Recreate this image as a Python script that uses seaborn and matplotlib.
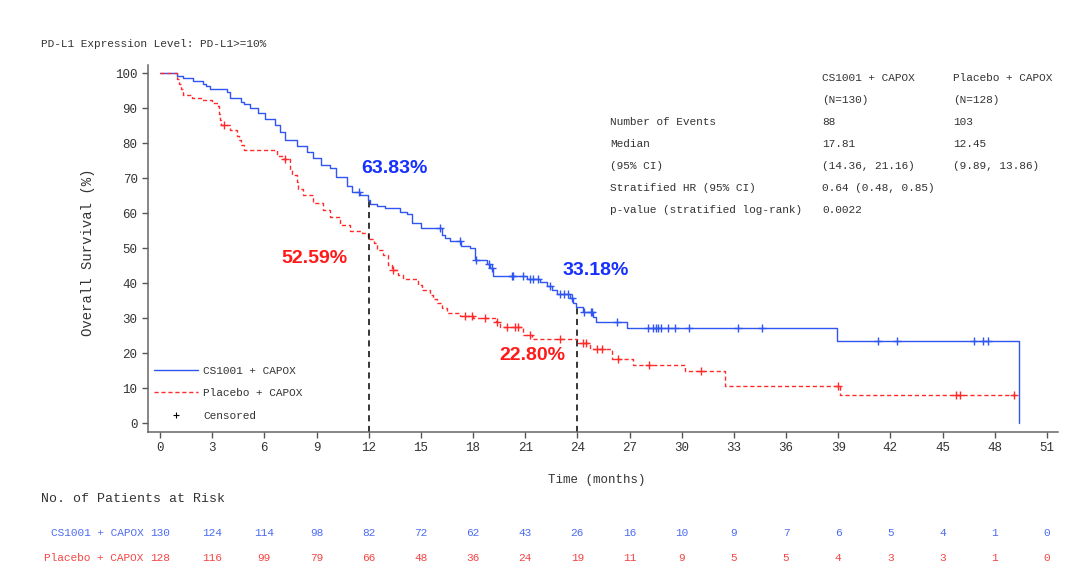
import numpy as np
import pandas as pd
import matplotlib
matplotlib.use("Agg")
import matplotlib.pyplot as plt
from matplotlib.lines import Line2D
import seaborn as sns

# Kaplan-Meier step values (time in months, survival %)
cs_time = [0, 1.0, 1.3, 1.88, 2.45, 2.65, 2.88, 3.87, 4.03, 4.64, 4.83, 5.18, 5.65, 6.04, 6.61,
           6.9, 7.19, 7.86, 8.43, 8.82, 9.24, 9.78, 10.12, 10.73, 11.02, 11.5, 11.95, 12.1, 12.46,
           12.94, 13.8, 14.19, 14.5, 15.0, 16.2, 16.4, 16.7, 17.3, 17.85, 18.1, 18.8, 19.0, 19.17,
           21.08, 21.85, 22.24, 22.52, 22.81, 23.58, 23.77, 23.95, 24.35, 24.9, 25.1, 26.85, 38.95, 49.4]
cs_surv = [100, 99.2, 98.5, 97.7, 97.0, 96.3, 95.3, 94.5, 93.0, 91.8, 91.1, 89.9, 88.5, 87.0, 85.1,
           83.2, 80.9, 79.1, 77.5, 75.6, 73.7, 72.8, 70.2, 67.7, 66.1, 65.1, 63.8, 62.6, 62.0,
           61.3, 60.4, 59.7, 57.1, 55.8, 53.7, 53.0, 52.1, 50.6, 49.9, 46.6, 45.4, 44.3, 42.0,
           41.1, 40.4, 39.1, 38.0, 36.9, 35.6, 34.4, 33.2, 31.6, 30.4, 29.0, 27.2, 23.4, 0]
cs_cens = [11.45, 16.1, 17.25, 18.17, 18.9, 19.1, 20.22, 20.32, 20.9, 21.28, 21.47, 21.76, 22.43,
           23.0, 23.23, 23.48, 23.7, 24.4, 24.8, 24.85, 26.3, 28.04, 28.33, 28.52, 28.62, 28.81,
           29.2, 29.61, 30.44, 33.22, 34.6, 41.3, 42.4, 46.8, 47.35, 47.6]

pl_time = [0, 1.0, 1.1, 1.2, 1.34, 1.82, 2.4, 2.97, 3.36, 3.42, 3.47, 3.52, 4.03, 4.45, 4.55,
           4.65, 4.83, 6.7, 7.05, 7.47, 7.6, 7.86, 7.95, 8.24, 8.82, 9.39, 9.78, 10.35, 10.92,
           11.6, 11.95, 12.3, 12.46, 12.84, 13.13, 13.32, 13.71, 14.0, 14.86, 15.05, 15.53, 15.7,
           15.91, 16.2, 16.49, 17.25, 18.02, 19.3, 19.55, 20.9, 21.4, 23.96, 24.73, 26.0, 27.22,
           30.19, 32.49, 39.1]
pl_surv = [100, 98.4, 96.9, 95.3, 93.8, 93.0, 92.2, 91.4, 90.6, 88.3, 86.7, 85.1, 83.7, 82.0, 80.9,
           79.4, 78.1, 76.3, 75.5, 72.3, 70.9, 69.0, 67.0, 65.1, 62.8, 60.9, 59.0, 56.6, 54.9,
           54.2, 52.6, 51.3, 49.4, 48.0, 45.1, 43.7, 42.3, 41.1, 39.4, 38.0, 36.6, 35.4,
           34.2, 32.8, 31.5, 30.6, 29.9, 28.9, 27.5, 25.1, 23.9, 22.8, 21.2, 18.4, 16.6,
           14.9, 10.6, 8.0]
pl_cens = [3.7, 7.2, 13.42, 17.54, 17.95, 18.69, 19.36, 19.93, 20.41, 20.6, 21.28, 23.0, 24.3,
           24.5, 25.11, 25.4, 26.35, 28.12, 31.11, 39.0, 45.77, 46.0, 49.1]
pl_last = 49.26

risk_months = list(range(0, 52, 3))
cs_risk = [130, 124, 114, 98, 82, 72, 62, 43, 26, 16, 10, 9, 7, 6, 5, 4, 1, 0]
pl_risk = [128, 116, 99, 79, 66, 48, 36, 24, 19, 11, 9, 5, 5, 4, 3, 3, 1, 0]

landmarks = [12, 24]
cs_land = ["63.83%", "33.18%"]
pl_land = ["52.59%", "22.80%"]
cs_land_val = [63.83, 33.18]

stat_rows = ["Number of Events", "Median", "(95% CI)", "Stratified HR (95% CI)",
             "p-value (stratified log-rank)"]
cs_stats = ["88", "17.81", "(14.36, 21.16)", "0.64 (0.48, 0.85)", "0.0022"]
pl_stats = ["103", "12.45", "(9.89, 13.86)", "", ""]

BLUE = "#2f55f2"
RED = "#ff2a2a"
GREY = "#333333"

sns.set_style("ticks")
plt.rcParams["font.family"] = ["Liberation Mono", "DejaVu Sans Mono"]


def surv_at(times, surv, t):
    i = np.searchsorted(times, t, side="right") - 1
    return np.asarray(surv)[i]


fig = plt.figure(figsize=(10.8, 5.76), dpi=100)
ax = fig.add_axes([148 / 1080, 1 - 432 / 576, 910 / 1080, 367 / 576])

cs_df = pd.DataFrame({"t": cs_time, "s": cs_surv})
pl_df = pd.DataFrame({"t": pl_time + [pl_last], "s": pl_surv + [pl_surv[-1]]})
sns.lineplot(data=cs_df, x="t", y="s", ax=ax, color=BLUE, lw=1.0, estimator=None,
             drawstyle="steps-post", sort=False)
sns.lineplot(data=pl_df, x="t", y="s", ax=ax, color=RED, lw=1.0, estimator=None,
             drawstyle="steps-post", sort=False, linestyle=(0, (3, 2)))

cs_c = pd.DataFrame({"t": cs_cens, "s": [surv_at(cs_time, cs_surv, t) for t in cs_cens]})
pl_c = pd.DataFrame({"t": pl_cens, "s": [surv_at(pl_time, pl_surv, t) for t in pl_cens]})
sns.scatterplot(data=cs_c, x="t", y="s", ax=ax, marker="+", color=BLUE, s=36, linewidth=1.0)
sns.scatterplot(data=pl_c, x="t", y="s", ax=ax, marker="+", color=RED, s=36, linewidth=1.0)

# landmark dashed lines
for m, v in zip(landmarks, cs_land_val):
    ax.plot([m, m], [-2.6, v], color="black", lw=1.1, ls=(0, (4, 3)))

pct_font = dict(family="Liberation Sans", weight="bold", fontsize=14)
ax.text(11.6, 72.7, cs_land[0], color="#1530ff", va="center", ha="left", **pct_font)
ax.text(7.0, 47.1, pl_land[0], color="#ff1a1a", va="center", ha="left", **pct_font)
ax.text(23.15, 43.7, cs_land[1], color="#1530ff", va="center", ha="left", **pct_font)
ax.text(19.5, 19.4, pl_land[1], color="#ff1a1a", va="center", ha="left", **pct_font)

ax.set_xlim(-0.69, 51.64)
ax.set_ylim(-2.57, 102.3)
ax.set_xticks(risk_months)
ax.set_yticks(range(0, 101, 10))
ax.tick_params(axis="both", length=4.5, width=1, color="#555555", labelsize=9,
               labelcolor=GREY, pad=3)
for sp in ["left", "bottom"]:
    ax.spines[sp].set_color("#666666")
    ax.spines[sp].set_linewidth(1.1)
sns.despine(ax=ax)

ax.set_xlabel("Time (months)", fontsize=9, color=GREY)
ax.xaxis.set_label_coords((597 - 148) / 910, (432 - 474) / 367)
ax.set_ylabel("Overall Survival (%)", fontsize=10, color=GREY)
ax.yaxis.set_label_coords((95 - 148) / 910, 0.49)

handles = [Line2D([], [], color=BLUE, lw=1.0),
           Line2D([], [], color=RED, lw=1.0, ls=(0, (3, 2))),
           Line2D([], [], color="black", marker="+", ls="none", markersize=5, mew=0.8)]
ax.legend(handles, ["CS1001 + CAPOX", "Placebo + CAPOX", "Censored"], loc="upper left",
          bbox_to_anchor=(0.007, 0.18), frameon=False, borderpad=0, borderaxespad=0,
          fontsize=8, handlelength=3.9, handletextpad=0.5, labelspacing=1.12,
          labelcolor=GREY)

# statistics table
col_x = [25.88, 38.07, 45.6]
ax.text(col_x[1], 98.6, "CS1001 + CAPOX", fontsize=8, color=GREY, va="center")
ax.text(col_x[2], 98.6, "Placebo + CAPOX", fontsize=8, color=GREY, va="center")
ax.text(col_x[1], 92.3, "(N=130)", fontsize=8, color=GREY, va="center")
ax.text(col_x[2], 92.3, "(N=128)", fontsize=8, color=GREY, va="center")
for i, (lab, a, b) in enumerate(zip(stat_rows, cs_stats, pl_stats)):
    yy = 86.0 - i * 6.3
    ax.text(col_x[0], yy, lab, fontsize=8, color=GREY, va="center")
    ax.text(col_x[1], yy, a, fontsize=8, color=GREY, va="center")
    ax.text(col_x[2], yy, b, fontsize=8, color=GREY, va="center")

# title and risk table
fig.text(41 / 1080, 1 - 44 / 576, "PD-L1 Expression Level: PD-L1>=10%", fontsize=8,
         color=GREY, va="center")
tr = ax.get_xaxis_transform()
ax.text(-0.1176, -0.183, "No. of Patients at Risk", transform=ax.transAxes, fontsize=9.5,
        color=GREY, va="center")
y_cs = (432 - 533) / 367
y_pl = (432 - 558) / 367
ax.text(-0.95, y_cs, "CS1001 + CAPOX", transform=tr, fontsize=8, color="#4d6cf2",
        va="center", ha="right", clip_on=False)
ax.text(-0.95, y_pl, "Placebo + CAPOX", transform=tr, fontsize=8, color="#f54545",
        va="center", ha="right", clip_on=False)
for m, a, b in zip(risk_months, cs_risk, pl_risk):
    ax.text(m, y_cs, str(a), transform=tr, fontsize=8, color="#4d6cf2", va="center",
            ha="center", clip_on=False)
    ax.text(m, y_pl, str(b), transform=tr, fontsize=8, color="#f54545", va="center",
            ha="center", clip_on=False)

fig.savefig("out.png", dpi=100)
